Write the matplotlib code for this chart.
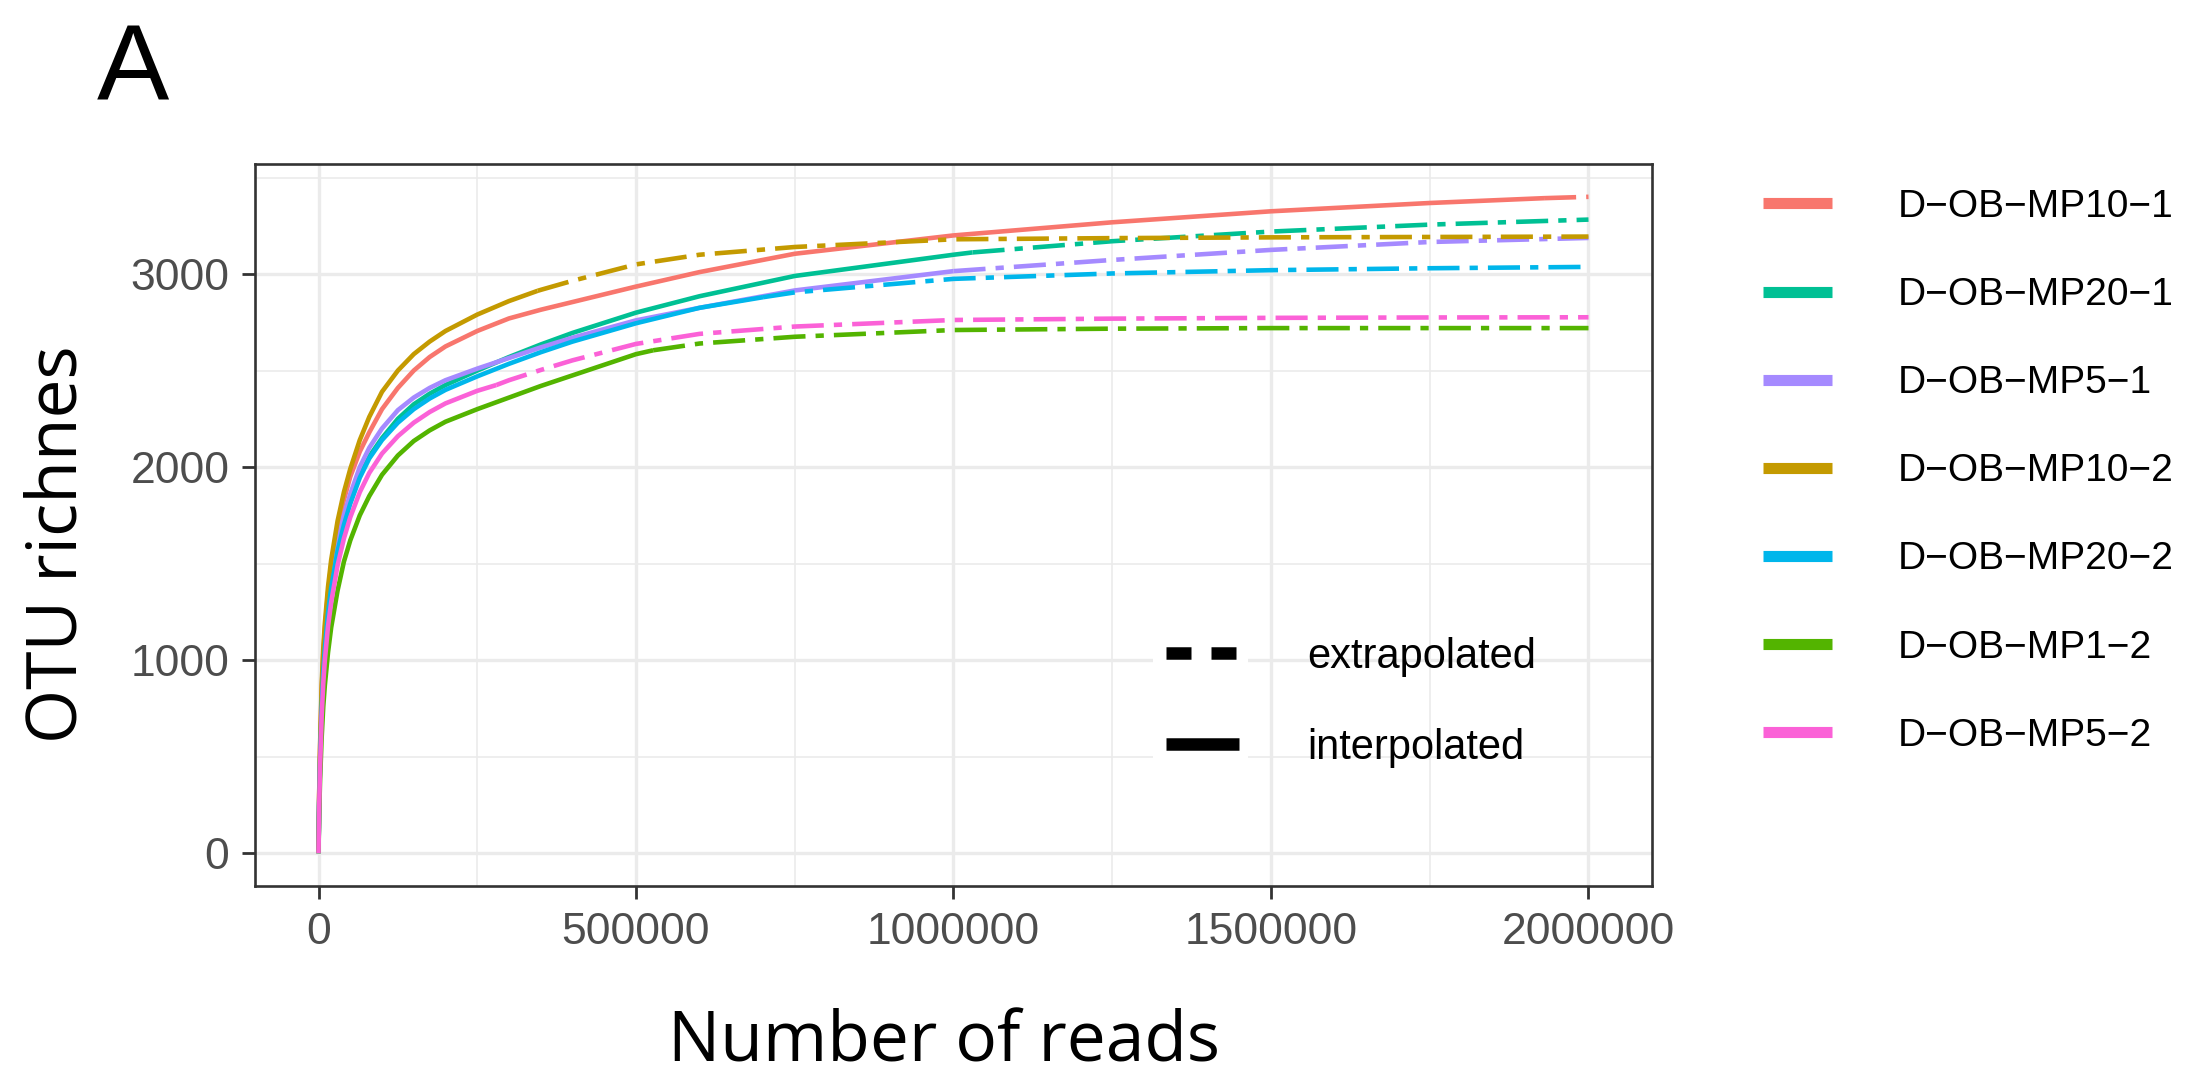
import numpy as np
import matplotlib
matplotlib.use("Agg")
import matplotlib.pyplot as plt
from matplotlib.lines import Line2D
from matplotlib.patches import Rectangle

plt.rcParams['font.family'] = ['Liberation Sans', 'DejaVu Sans']

# ---------------- data ----------------
reads = [0, 1000, 2500, 5000, 7500, 10000, 15000, 20000, 30000, 40000, 50000,
         65000, 80000, 100000, 125000, 150000, 175000, 200000, 250000, 300000,
         350000, 400000, 500000, 600000, 750000, 1000000, 1250000, 1500000,
         1750000, 2000000]

samples = ["D\u2212OB\u2212MP10\u22121", "D\u2212OB\u2212MP20\u22121", "D\u2212OB\u2212MP5\u22121",
           "D\u2212OB\u2212MP10\u22122", "D\u2212OB\u2212MP20\u22122", "D\u2212OB\u2212MP1\u22122",
           "D\u2212OB\u2212MP5\u22122"]

mp10_1 = [0, 290, 540, 840, 1030, 1160, 1350, 1490, 1690, 1830, 1950, 2080, 2180,
          2300, 2410, 2500, 2570, 2625, 2705, 2770, 2815, 2855, 2935, 3010, 3105,
          3200, 3268, 3325, 3368, 3400]
mp20_1 = [0, 250, 480, 760, 950, 1070, 1260, 1390, 1580, 1720, 1830, 1960, 2055,
          2150, 2250, 2325, 2380, 2425, 2500, 2570, 2635, 2695, 2800, 2885, 2990,
          3100, 3170, 3220, 3256, 3282]
mp5_1 = [0, 270, 500, 780, 970, 1100, 1290, 1420, 1610, 1750, 1860, 2000, 2100,
         2200, 2295, 2360, 2410, 2450, 2510, 2565, 2620, 2670, 2760, 2825, 2915,
         3015, 3073, 3125, 3166, 3187]
mp10_2 = [0, 300, 560, 870, 1060, 1190, 1380, 1520, 1720, 1870, 1990, 2140, 2260,
          2390, 2500, 2585, 2650, 2705, 2790, 2860, 2918, 2965, 3050, 3100, 3140,
          3180, 3186, 3190, 3192, 3194]
mp20_2 = [0, 250, 470, 750, 940, 1060, 1245, 1375, 1565, 1700, 1810, 1945, 2045,
          2140, 2230, 2300, 2355, 2400, 2470, 2535, 2595, 2650, 2745, 2825, 2905,
          2975, 3003, 3020, 3030, 3037]
mp1_2 = [0, 200, 380, 600, 760, 870, 1040, 1170, 1360, 1510, 1620, 1750, 1850,
         1960, 2060, 2135, 2190, 2235, 2300, 2360, 2420, 2475, 2585, 2640, 2675,
         2710, 2717, 2720, 2720, 2720]
mp5_2 = [0, 230, 450, 710, 880, 1000, 1175, 1300, 1490, 1630, 1740, 1870, 1970,
         2070, 2160, 2230, 2285, 2330, 2395, 2450, 2503, 2553, 2638, 2690, 2728,
         2762, 2769, 2773, 2775, 2776]

richness = [mp10_1, mp20_1, mp5_1, mp10_2, mp20_2, mp1_2, mp5_2]
# observed sample size (end of interpolation) and richness there
obs_reads = [1930000, 1030000, 1000000, 345000, 700000, 527000, 280000]
obs_richness = [3393, 3112, 3015, 2913, 2880, 2605, 2425]

colors = ["#F8766D", "#00C094", "#A58AFF", "#C49A00", "#00B6EB", "#53B400", "#FB61D7"]

x_ticks = [0, 500000, 1000000, 1500000, 2000000]
x_tick_labels = ["0", "500000", "1000000", "1500000", "2000000"]
x_minor = [250000, 750000, 1250000, 1750000]
y_ticks = [0, 1000, 2000, 3000]
y_tick_labels = ["0", "1000", "2000", "3000"]
y_minor = [500, 1500, 2500, 3500]

# ---------------- figure ----------------
W, H = 2202, 1083
fig = plt.figure(figsize=(W / 100, H / 100), dpi=100)
fig.patch.set_facecolor("white")
ax = fig.add_axes([255 / W, 1 - 886 / H, (1652 - 255) / W, (886 - 164) / H])

lw = 3.3
dashdot = (7.0, 2.2, 1.8, 2.2)
x = np.array(reads, dtype=float)
for vals, ox, oy, c in zip(richness, obs_reads, obs_richness, colors):
    y = np.array(vals, dtype=float)
    m_in = x < ox
    m_ex = x > ox
    xs = np.concatenate([x[m_in], [ox]])
    ys = np.concatenate([y[m_in], [oy]])
    xe = np.concatenate([[ox], x[m_ex]])
    ye = np.concatenate([[oy], y[m_ex]])
    ax.plot(xs, ys, color=c, lw=lw, solid_capstyle="butt", solid_joinstyle="round", zorder=3)
    ax.plot(xe, ye, color=c, lw=lw, dashes=dashdot, dash_capstyle="butt", zorder=3)

ax.set_xlim(-100000, 2100000)
ax.set_ylim(-170, 3570)
ax.set_xticks(x_ticks)
ax.set_xticklabels(x_tick_labels)
ax.set_xticks(x_minor, minor=True)
ax.set_yticks(y_ticks)
ax.set_yticklabels(y_tick_labels)
ax.set_yticks(y_minor, minor=True)

ax.set_axisbelow(True)
ax.grid(which="major", color="#EBEBEB", lw=2.4)
ax.grid(which="minor", color="#EBEBEB", lw=1.2)
for s in ax.spines.values():
    s.set_color("#333333")
    s.set_linewidth(1.9)
ax.tick_params(which="major", length=9.4, width=2.0, color="#333333",
               labelsize=32, labelcolor="#4D4D4D", pad=9)
ax.tick_params(which="minor", length=0)

ax.set_xlabel("Number of reads", fontsize=50, family=["Open Sans", "DejaVu Sans"])
ax.xaxis.label.set_va("baseline")
ax.xaxis.set_label_coords(0.493, (886 - 1062) / (886 - 164))
ax.set_ylabel("OTU richnes", fontsize=50, family=["Open Sans", "DejaVu Sans"])
ax.yaxis.label.set_rotation_mode("anchor")
ax.yaxis.label.set_va("baseline")
ax.yaxis.label.set_ha("center")
ax.yaxis.set_label_coords((77 - 255) / (1652 - 255), (886 - 544) / (886 - 164))

fig.text(97 / W, 1 - 100 / H, "A", fontsize=78, ha="left", va="baseline")

# colour legend (outside, right)
fs1 = 28
px1 = fs1 / 72 * 100
handles = [Line2D([], [], color=c, lw=8, solid_capstyle="butt") for c in colors]
fig.legend(handles, samples, loc="upper left",
           bbox_to_anchor=(1763 / W, 1 - 189 / H), bbox_transform=fig.transFigure,
           frameon=False, fontsize=fs1, borderpad=0, borderaxespad=0,
           handlelength=69 / px1, handletextpad=66 / px1, labelspacing=1.34)

# linetype legend (inside)
ax.add_patch(Rectangle((1153 / W, 1 - 795 / H), 95 / W, 185 / H, transform=fig.transFigure,
                       facecolor="white", edgecolor="none", zorder=1.5))
fs2 = 30
px2 = fs2 / 72 * 100
lt_handles = [Line2D([], [], color="black", lw=9, dashes=(2.0, 1.6), dash_capstyle="butt"),
              Line2D([], [], color="black", lw=9, solid_capstyle="butt")]
leg2 = ax.legend(lt_handles, ["extrapolated", "interpolated"], loc="upper left",
                 bbox_to_anchor=(1166 / W, 1 - 637 / H), bbox_transform=fig.transFigure,
                 frameon=False, fontsize=fs2, borderpad=0, borderaxespad=0,
                 handlelength=73 / px2, handletextpad=68 / px2, labelspacing=1.22)
leg2.set_zorder(5)

fig.savefig("out.png", dpi=100, facecolor="white")
